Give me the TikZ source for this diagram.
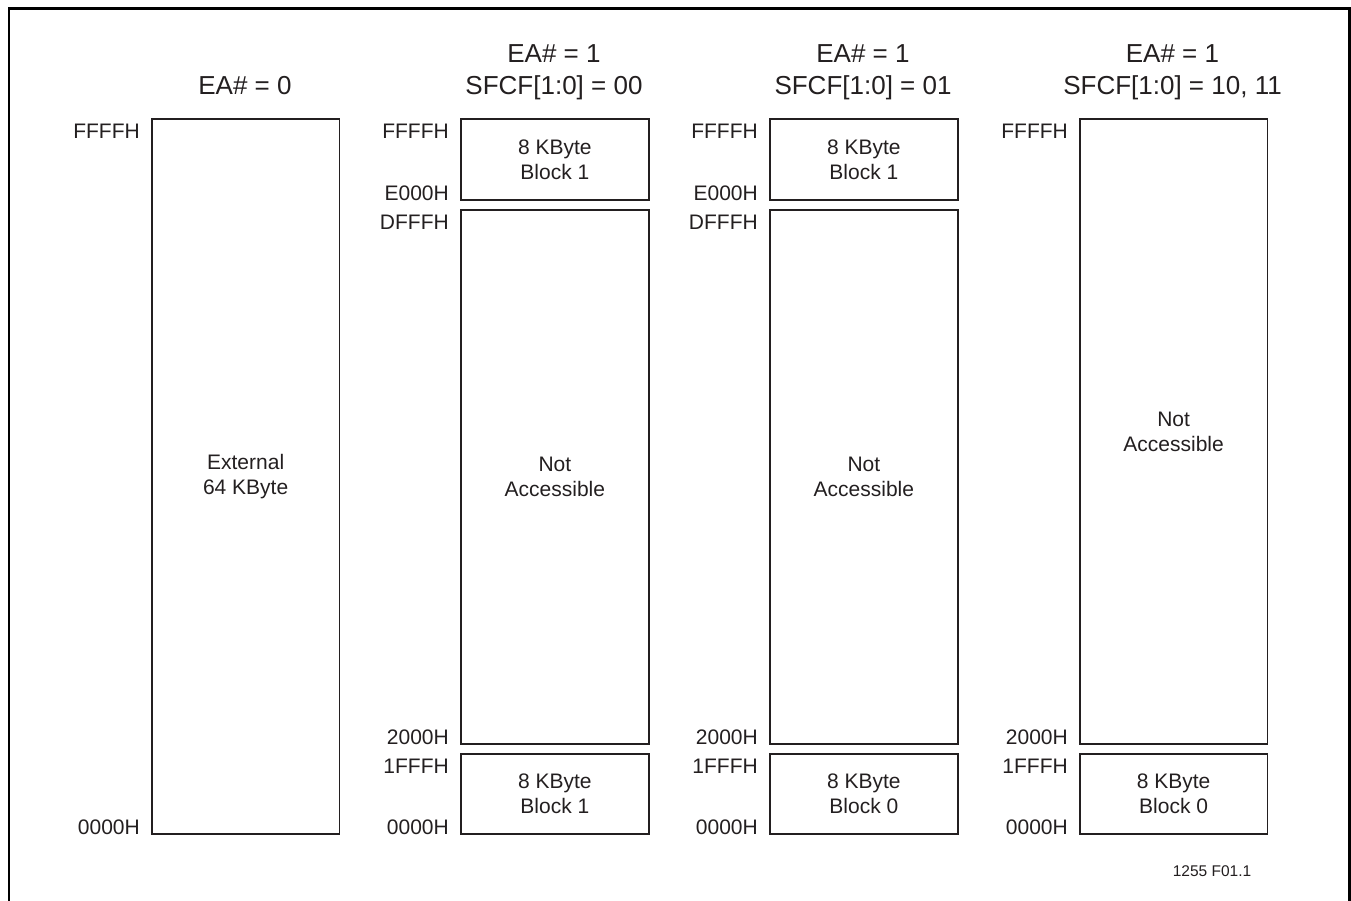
\documentclass[tikz,border=0pt]{standalone}
\usepackage{fontspec}
\setmainfont{Liberation Sans}
\definecolor{ink}{HTML}{231F20}
\begin{document}
\begin{tikzpicture}[x=1pt,y=-1pt,
  membox/.style={draw=ink, line width=1.8pt, rectangle, inner sep=0pt, anchor=north west,
    text=ink, align=center, font=\fontsize{21}{25}\selectfont},
  addr/.style={anchor=base east, inner sep=0pt, text=ink, font=\fontsize{21}{25}\selectfont},
  ttl/.style={anchor=base, inner sep=0pt, text=ink, font=\fontsize{26}{30}\selectfont},
  foot/.style={anchor=base, inner sep=0pt, text=ink, font=\fontsize{15.5}{18}\selectfont}]
\useasboundingbox (0,0) rectangle (1351,901);
% outer frame (open at bottom)
\draw[line width=2.4pt, black] (9,901) -- (9,8.5) -- (1349.5,8.5) -- (1349.5,901);

% ---------- column 1 ----------
\node[ttl] (t1) at (245,95) {EA\# = 0};
\node[membox, minimum width=187.5pt, minimum height=714.5pt] (c1) at (151,118.5) {External\\64 KByte};
\node[addr] (c1a) at ([xshift=-11pt,yshift=-20.5pt]c1.north west) {FFFFH};
\node[addr] (c1b) at ([xshift=-11pt,yshift=0pt]c1.south west) {0000H};

% ---------- column 2 ----------
\node[ttl] (t2a) at (554,63) {EA\# = 1};
\node[ttl] (t2b) at (554,95) {SFCF[1:0] = 00};
\node[membox, minimum width=188pt, minimum height=80.5pt] (c2t) at (460,118.5) {8 KByte\\Block 1};
\node[membox, minimum width=188pt, minimum height=533.7pt] (c2m) at (460,209) {Not\\Accessible};
\node[membox, minimum width=188pt, minimum height=80.3pt] (c2b) at (460,752.7) {8 KByte\\Block 1};
\node[addr] (c2a1) at ([xshift=-11pt,yshift=-20.5pt]c2t.north west) {FFFFH};
\node[addr] (c2a2) at ([xshift=-11pt]c2t.south west) {E000H};
\node[addr] (c2a3) at ([xshift=-11pt,yshift=-20.5pt]c2m.north west) {DFFFH};
\node[addr] (c2a4) at ([xshift=-11pt]c2m.south west) {2000H};
\node[addr] (c2a5) at ([xshift=-11pt,yshift=-20.5pt]c2b.north west) {1FFFH};
\node[addr] (c2a6) at ([xshift=-11pt]c2b.south west) {0000H};

% ---------- column 3 ----------
\node[ttl] (t3a) at (863,63) {EA\# = 1};
\node[ttl] (t3b) at (863,95) {SFCF[1:0] = 01};
\node[membox, minimum width=188pt, minimum height=80.5pt] (c3t) at (769,118.5) {8 KByte\\Block 1};
\node[membox, minimum width=188pt, minimum height=533.7pt] (c3m) at (769,209) {Not\\Accessible};
\node[membox, minimum width=188pt, minimum height=80.3pt] (c3b) at (769,752.7) {8 KByte\\Block 0};
\node[addr] (c3a1) at ([xshift=-11pt,yshift=-20.5pt]c3t.north west) {FFFFH};
\node[addr] (c3a2) at ([xshift=-11pt]c3t.south west) {E000H};
\node[addr] (c3a3) at ([xshift=-11pt,yshift=-20.5pt]c3m.north west) {DFFFH};
\node[addr] (c3a4) at ([xshift=-11pt]c3m.south west) {2000H};
\node[addr] (c3a5) at ([xshift=-11pt,yshift=-20.5pt]c3b.north west) {1FFFH};
\node[addr] (c3a6) at ([xshift=-11pt]c3b.south west) {0000H};

% ---------- column 4 ----------
\node[ttl] (t4a) at (1172.5,63) {EA\# = 1};
\node[ttl] (t4b) at (1172.5,95) {SFCF[1:0] = 10, 11};
\node[membox, minimum width=187.5pt, minimum height=624.2pt] (c4m) at (1079,118.5) {Not\\Accessible};
\node[membox, minimum width=187.5pt, minimum height=80.3pt] (c4b) at (1079,752.7) {8 KByte\\Block 0};
\node[addr] (c4a1) at ([xshift=-11pt,yshift=-20.5pt]c4m.north west) {FFFFH};
\node[addr] (c4a2) at ([xshift=-11pt]c4m.south west) {2000H};
\node[addr] (c4a3) at ([xshift=-11pt,yshift=-20.5pt]c4b.north west) {1FFFH};
\node[addr] (c4a4) at ([xshift=-11pt]c4b.south west) {0000H};

\node[foot] (fn) at (1212,876) {1255 F01.1};
\end{tikzpicture}
\end{document}
